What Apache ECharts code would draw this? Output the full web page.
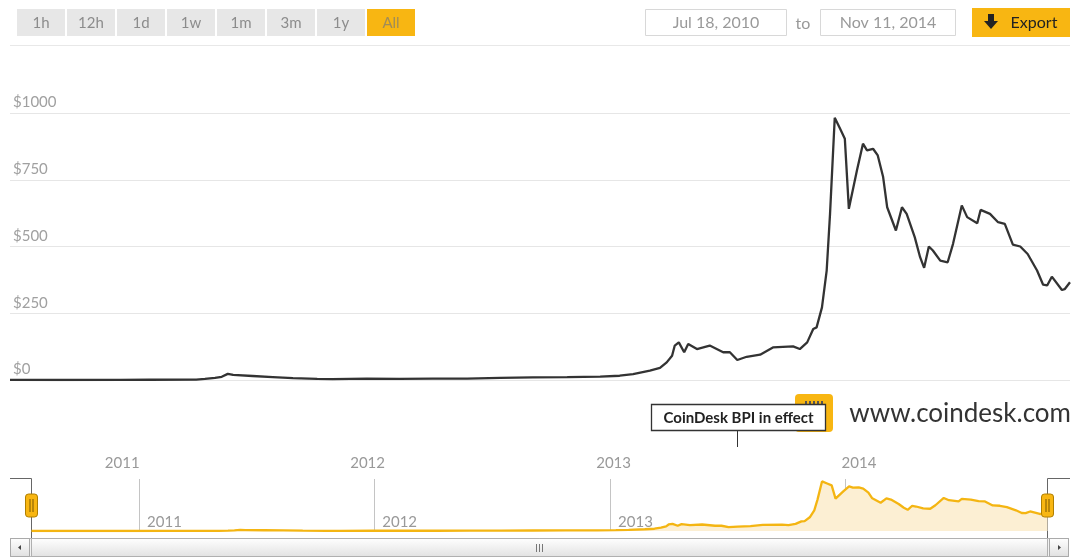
<!DOCTYPE html>
<html><head><meta charset="utf-8">
<script src="https://cdn.jsdelivr.net/npm/echarts@6/dist/echarts.min.js"></script>
<style>html,body{margin:0;padding:0;background:#fff}#c{width:1075px;height:557px}</style>
</head><body><div id="c"></div>
<script>
// ---- data ----
const dates = [
 '2010-07-18','2010-09-30','2010-12-29','2011-02-10','2011-04-21','2011-05-04','2011-05-19','2011-05-29',
 '2011-06-07','2011-06-15','2011-07-14','2011-08-13','2011-09-12','2011-10-18','2011-11-10','2011-12-31',
 '2012-02-17','2012-04-07','2012-05-28','2012-07-16','2012-09-03','2012-10-24','2012-12-12',
 '2013-01-10','2013-01-30','2013-02-24','2013-03-11','2013-03-21','2013-03-29','2013-04-02','2013-04-08',
 '2013-04-16','2013-04-22','2013-05-05','2013-05-24','2013-06-13','2013-06-23','2013-07-04','2013-07-18',
 '2013-08-07','2013-08-26','2013-09-25','2013-10-05','2013-10-16','2013-10-25','2013-10-30','2013-11-07',
 '2013-11-14','2013-11-19','2013-11-26','2013-12-04','2013-12-11','2013-12-17','2013-12-29',
 '2014-01-07','2014-01-13','2014-01-22','2014-01-29','2014-02-06','2014-02-12','2014-02-25','2014-03-06',
 '2014-03-13','2014-03-25','2014-04-02','2014-04-08','2014-04-15','2014-04-21','2014-05-02','2014-05-13',
 '2014-05-21','2014-06-03','2014-06-11','2014-06-26','2014-07-01','2014-07-15','2014-07-27','2014-08-06',
 '2014-08-18','2014-08-29','2014-09-09','2014-09-23','2014-10-02','2014-10-08','2014-10-15','2014-10-30',
 '2014-11-03','2014-11-11'
];
const prices = [
 0.1, 0.06, 0.3, 1, 1.5, 4, 8, 12,
 23, 19, 15, 11, 7, 4, 3, 5,
 4.5, 5, 5.5, 8, 10, 11, 13,
 16, 22, 35, 45, 66, 91, 129, 141,
 104, 135, 116, 129, 104, 104, 75, 87,
 95, 122, 126, 116, 141, 191, 197, 272,
 410, 622, 982, 941, 904, 641, 785,
 885, 860, 866, 841, 760, 647, 560, 647,
 622, 535, 460, 420, 500, 485, 447, 441,
 510, 654, 610, 587, 637, 622, 591, 585,
 507, 500, 472, 410, 357, 354, 387, 337,
 340, 366
];
const yTicks = [0, 250, 500, 750, 1000];
const yearTicks = ['2011-01-01', '2012-01-01', '2013-01-01', '2014-01-01'];
const rangeButtons = ['1h', '12h', '1d', '1w', '1m', '3m', '1y', 'All'];
const startDate = '2010-07-18';
const endDate = '2014-11-11';
const fromLabel = 'Jul 18, 2010';
const toLabel = 'Nov 11, 2014';
const flagDate = '2013-07-04';
const flagText = 'CoinDesk BPI in effect';
const creditText = 'www.coindesk.com';

// ---- helpers ----
function ts(s) { const p = s.split('-').map(Number); return new Date(p[0], p[1] - 1, p[2]).getTime(); }
const seriesData = dates.map((d, i) => [ts(d), prices[i]]);
const yearTs = yearTicks.map(ts);
const yearFmt = v => String(new Date(v).getFullYear());
const FONT = 'Lato, "Open Sans", sans-serif';
const YEL = '#f8b612';

const chart = echarts.init(document.getElementById('c'), null, { renderer: 'canvas' });

// toolbar graphics
const g = [];
rangeButtons.forEach((b, i) => {
  const x = 17 + i * 50;
  const sel = b === 'All';
  g.push({ type: 'rect', shape: { x: x, y: 9, width: 48, height: 27 }, style: { fill: sel ? YEL : '#e7e7e7' }, silent: true });
  g.push({ type: 'text', x: x + 24, y: 23, style: { text: b, fill: sel ? '#a08c58' : '#8c8c8c', font: '15px ' + FONT, align: 'center', verticalAlign: 'middle' } });
});
g.push({ type: 'rect', shape: { x: 645.5, y: 9.5, width: 141, height: 26 }, style: { fill: '#fff', stroke: '#d8d8d8', lineWidth: 1 } });
g.push({ type: 'text', x: 716, y: 23, style: { text: fromLabel, fill: '#999', font: '16px ' + FONT, align: 'center', verticalAlign: 'middle' } });
g.push({ type: 'text', x: 803, y: 24, style: { text: 'to', fill: '#999', font: '16px ' + FONT, align: 'center', verticalAlign: 'middle' } });
g.push({ type: 'rect', shape: { x: 820.5, y: 9.5, width: 135, height: 26 }, style: { fill: '#fff', stroke: '#d8d8d8', lineWidth: 1 } });
g.push({ type: 'text', x: 888, y: 23, style: { text: toLabel, fill: '#999', font: '16px ' + FONT, align: 'center', verticalAlign: 'middle' } });
g.push({ type: 'rect', shape: { x: 972, y: 8, width: 98, height: 29 }, style: { fill: YEL } });
g.push({ type: 'polygon', shape: { points: [[988, 14], [994, 14], [994, 21], [998, 21], [991, 29], [984, 21], [988, 21]] }, style: { fill: '#222' } });
g.push({ type: 'text', x: 1034, y: 23, style: { text: 'Export', fill: '#222', font: '16px ' + FONT, align: 'center', verticalAlign: 'middle' } });
g.push({ type: 'line', shape: { x1: 10, y1: 45.5, x2: 1070, y2: 45.5 }, style: { stroke: '#e8e8e8', lineWidth: 1 } });

// credit
g.push({ type: 'text', x: 1071, y: 414, style: { text: creditText, fill: '#333', font: '26px ' + FONT, align: 'right', verticalAlign: 'middle' } });

// navigator chrome
g.push({ type: 'polyline', shape: { points: [[10, 478.5], [31.5, 478.5], [31.5, 556]] }, style: { stroke: '#666', lineWidth: 1, fill: null } });
g.push({ type: 'polyline', shape: { points: [[1070, 478.5], [1047.5, 478.5], [1047.5, 556]] }, style: { stroke: '#666', lineWidth: 1, fill: null } });
// scrollbar
g.push({ type: 'rect', shape: { x: 10.5, y: 538.5, width: 1058, height: 18 }, style: { fill: '#f2f2f2', stroke: '#bbb', lineWidth: 1 } });
g.push({ type: 'rect', shape: { x: 31.5, y: 538.5, width: 1016, height: 18 }, style: {
  fill: new echarts.graphic.LinearGradient(0, 0, 0, 1, [{ offset: 0, color: '#ffffff' }, { offset: 1, color: '#e2e2e2' }]), stroke: '#b0b0b0', lineWidth: 1 } });
g.push({ type: 'rect', shape: { x: 10.5, y: 538.5, width: 19, height: 18 }, style: {
  fill: new echarts.graphic.LinearGradient(0, 0, 0, 1, [{ offset: 0, color: '#ffffff' }, { offset: 1, color: '#e0e0e0' }]), stroke: '#aaa', lineWidth: 1 } });
g.push({ type: 'rect', shape: { x: 1049.5, y: 538.5, width: 19, height: 18 }, style: {
  fill: new echarts.graphic.LinearGradient(0, 0, 0, 1, [{ offset: 0, color: '#ffffff' }, { offset: 1, color: '#e0e0e0' }]), stroke: '#aaa', lineWidth: 1 } });
g.push({ type: 'polygon', shape: { points: [[18, 547.5], [21, 545], [21, 550]] }, style: { fill: '#444' } });
g.push({ type: 'polygon', shape: { points: [[1061, 547.5], [1058, 545], [1058, 550]] }, style: { fill: '#444' } });
[536.5, 539.5, 542.5].forEach(x => g.push({ type: 'line', shape: { x1: x, y1: 544, x2: x, y2: 552 }, style: { stroke: '#777', lineWidth: 1 } }));
// handles (drawn on top)
[31.5, 1047.5].forEach(cx => {
  g.push({ type: 'rect', z: 100, shape: { x: cx - 6, y: 494, width: 12, height: 23, r: 3 }, style: { fill: YEL, stroke: '#b07f00', lineWidth: 1 } });
  g.push({ type: 'line', z: 101, shape: { x1: cx - 1.5, y1: 499, x2: cx - 1.5, y2: 512 }, style: { stroke: '#7a5600', lineWidth: 1 } });
  g.push({ type: 'line', z: 101, shape: { x1: cx + 1.5, y1: 499, x2: cx + 1.5, y2: 512 }, style: { stroke: '#7a5600', lineWidth: 1 } });
});

const option = {
  animation: false,
  backgroundColor: '#fff',
  textStyle: { fontFamily: FONT },
  grid: [
    { left: 10, right: 5, top: 113, height: 267 },
    { left: 31.5, right: 27.5, top: 479, height: 52 }
  ],
  xAxis: [
    { type: 'value', gridIndex: 0, min: ts(startDate), max: ts(endDate),
      axisLine: { show: false }, axisTick: { show: false, customValues: yearTs }, splitLine: { show: false },
      axisLabel: { customValues: yearTs, formatter: yearFmt, margin: 76, color: '#999', fontSize: 15, fontFamily: FONT } },
    { type: 'value', gridIndex: 1, min: ts(startDate), max: ts(endDate),
      axisLine: { show: false }, axisTick: { show: false, customValues: yearTs },
      splitLine: { show: true, lineStyle: { color: '#c4c4c4', width: 1 } },
      axisLabel: { inside: true, customValues: yearTs, formatter: yearFmt, align: 'left', padding: [0, 0, 0, 8], margin: 1, color: '#999', fontSize: 15, fontFamily: FONT } }
  ],
  yAxis: [
    { type: 'value', gridIndex: 0, min: yTicks[0], max: yTicks[yTicks.length - 1], interval: 250,
      axisLine: { show: false }, axisTick: { show: false },
      splitLine: { lineStyle: { color: '#e6e6e6', width: 1 } },
      axisLabel: { inside: true, margin: 3, verticalAlign: 'bottom', padding: [0, 0, 3, 0], color: '#a0a0a0', fontSize: 15, fontFamily: FONT, formatter: v => '$' + v } },
    { type: 'value', gridIndex: 1, min: 0, max: 1030, show: false, splitLine: { show: false } }
  ],
  series: [
    { type: 'line', xAxisIndex: 0, yAxisIndex: 0, data: seriesData, showSymbol: false, symbol: 'none',
      lineStyle: { color: '#333', width: 2.3 }, z: 5 },
    { type: 'line', xAxisIndex: 1, yAxisIndex: 1, data: seriesData, showSymbol: false, symbol: 'none',
      lineStyle: { color: '#f4b512', width: 2.3 }, areaStyle: { color: '#fcefd3', opacity: 1 }, z: 5 }
  ],
  graphic: g
};
chart.setOption(option);

// flag annotation positioned from its date through the main x scale
const fx = Math.round(chart.convertToPixel({ xAxisIndex: 0 }, ts(flagDate))) + 0.5;
const flag = [];
flag.push({ type: 'rect', shape: { x: 795, y: 394, width: 38, height: 38, r: 4 }, style: { fill: YEL } });
[805, 809, 813, 817, 821].forEach(x => flag.push({ type: 'rect', shape: { x: x, y: 401, width: 2, height: 3 }, style: { fill: '#555' } }));
flag.push({ type: 'rect', shape: { x: fx - 86, y: 404.5, width: 174, height: 26 }, style: { fill: '#fff', stroke: '#333', lineWidth: 1.3 } });
flag.push({ type: 'text', x: fx + 1, y: 418, style: { text: flagText, fill: '#222', font: 'bold 15px ' + FONT, align: 'center', verticalAlign: 'middle' } });
flag.push({ type: 'line', shape: { x1: fx, y1: 431, x2: fx, y2: 447 }, style: { stroke: '#333', lineWidth: 1 } });
chart.setOption({ graphic: g.concat(flag) });
</script>
</body></html>
